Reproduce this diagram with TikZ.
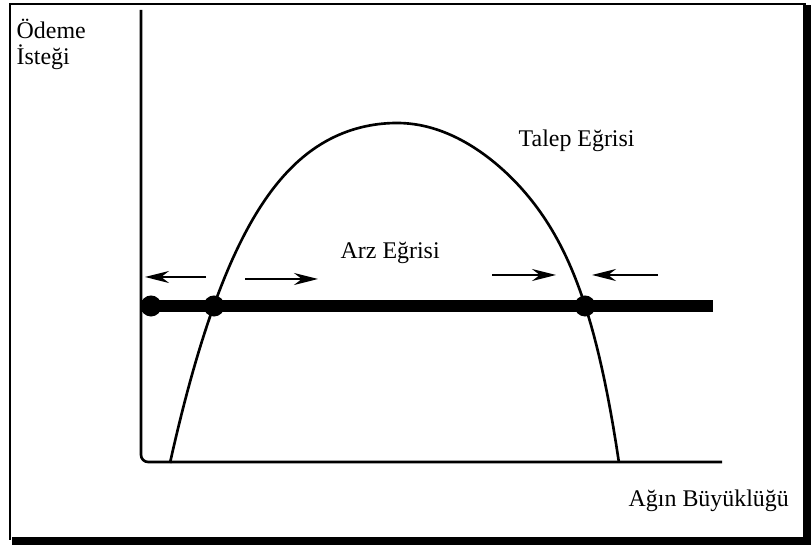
\documentclass[tikz,border=0pt]{standalone}
\usepackage{fontspec}
\setmainfont{Liberation Serif}
\usetikzlibrary{arrows.meta}

\begin{document}
\begin{tikzpicture}[x=0.01cm,y=-0.01cm,
  lbl/.style={anchor=base west,inner sep=0pt,font=\fontsize{6.8pt}{8pt}\selectfont},
  eqdot/.style={circle,fill=black,inner sep=0pt,minimum size=0.21cm},
  move/.style={-{Stealth[length=0.24cm,width=0.12cm]},line width=0.5pt}]
\useasboundingbox (0,0) rectangle (812,546);
% frame with shadow
\draw [line width=0.6pt] (10,540) -- (10,4) -- (806,4);
\fill (803,5) rectangle (811,545);
\fill (12,537) rectangle (811,545);

% axes
\draw [line width=0.75pt, rounded corners=2pt] (141,10) -- (141,462) -- (722,462);
\node [lbl] (wtpA) at (16,39) {Ödeme};
\node [lbl] (wtpB) at (16,65) {İsteği};
\node [lbl] (size) at (628,507) {Ağın Büyüklüğü};

% demand curve
\draw [line width=0.75pt] plot [domain=-1:0, samples=80] ({397+227*\x},{123+340*(0.5*\x*\x+0.5*\x*\x*\x*\x)})
  -- plot [domain=0:1, samples=80] ({397+222*\x},{123+340*(0.6*\x*\x+0.4*\x*\x*\x*\x*\x*\x*\x*\x)});
\node [lbl] (demand) at (518,147) {Talep Eğrisi};

% supply line
\draw [line width=0.11cm] (141,306) -- (713,306);
\node [lbl] (supply) at (340,259) {Arz Eğrisi};

\node [eqdot] (eqO) at (151,306) {};
\node [eqdot] (eqL) at (214,306) {};
\node [eqdot] (eqR) at (585,306) {};

%\draw [move] (eqL) -- (eqO);
\draw [move] (206,277) -- (145,277);
\draw [move] (245,279) -- (318,279);
\draw [move] (492,275) -- (556,275);
\draw [move] (658,275) -- (592,275);
\end{tikzpicture}
\end{document}
